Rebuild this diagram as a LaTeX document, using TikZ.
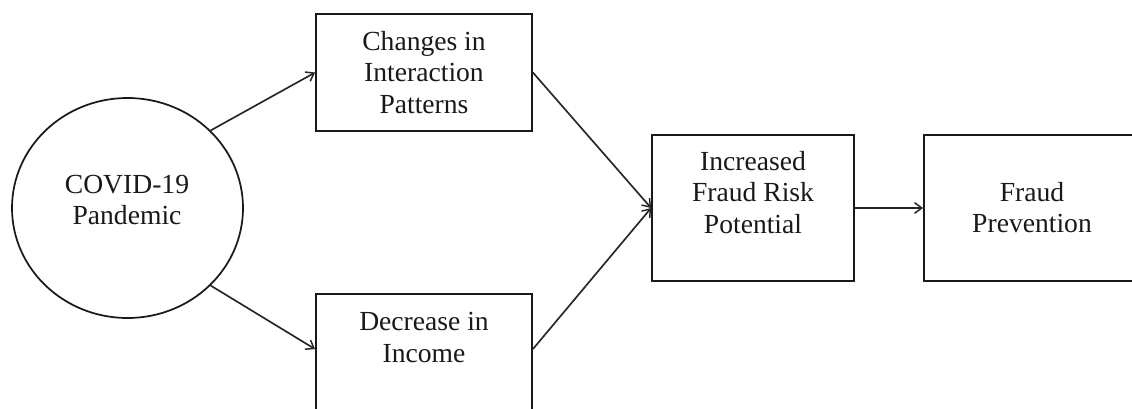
\documentclass[tikz,border=0pt]{standalone}
\usepackage{fontspec}
\setmainfont{Liberation Serif}
\usetikzlibrary{arrows.meta,shapes.geometric,calc}
\tikzset{
  boxnode/.style={draw=black!90, line width=1.35pt, rectangle, inner sep=0pt},
  ovalnode/.style={draw=black!90, line width=1.3pt, ellipse, inner sep=0pt, minimum width=173.25pt, minimum height=165pt},
  txt/.style={align=center, inner sep=0pt, font=\fontsize{20.7}{23.3}\selectfont, text=black!90},
  conn/.style={draw=black!85, line width=1.25pt, -{Straight Barb[length=5.5pt,width=8pt,line width=1.1pt]}}
}
\begin{document}
\begin{tikzpicture}[x=0.75pt, y=-0.75pt]
\useasboundingbox (0,0) rectangle (1132,408);
\clip (0,0) rectangle (1132,408);
\fill[white] (0,0) rectangle (1132,408);
% shapes
\node[ovalnode] (c) at (127.5,208) {};
\node[boxnode, minimum width=162pt, minimum height=87.75pt] (b1) at (424,72.5) {};
\node[boxnode, minimum width=162pt, minimum height=90pt] (b2) at (424,354) {};
\node[boxnode, minimum width=151.5pt, minimum height=109.5pt] (b3) at (753,208) {};
\node[boxnode, minimum width=162pt, minimum height=109.5pt] (b4) at (1032,208) {};
% texts
\node[txt] (tc) at (127,200) {COVID-19\\Pandemic};
\node[txt] (t1) at (424,72.5) {Changes in\\Interaction\\Patterns};
\node[txt] (t2) at (424,337.5) {Decrease in\\Income};
\node[txt] (t3) at (753,192.5) {Increased\\Fraud Risk\\Potential};
\node[txt] (t4) at (1032,208) {Fraud\\Prevention};
% connector ends on box 2
\coordinate (b2w) at ($(b2.north west)+(0,56)$);
\coordinate (b2e) at ($(b2.north east)+(0,56)$);
% connectors
\draw[conn] (c.43) -- (b1.west);
\draw[conn] (c.-43) -- (b2w);
\draw[conn] (b1.east) -- (b3.west);
\draw[conn] (b2e) -- (b3.west);
\draw[conn] (b3.east) -- (b4.west);
\end{tikzpicture}
\end{document}
